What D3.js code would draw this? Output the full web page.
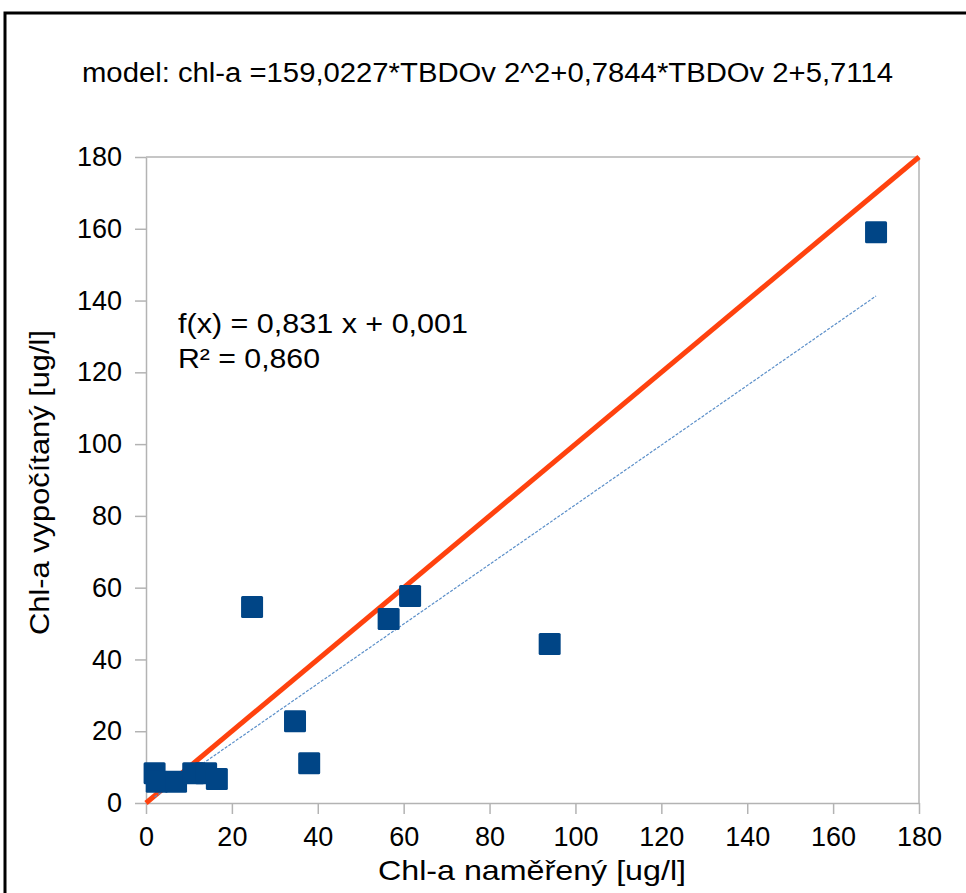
<!DOCTYPE html>
<html><head><meta charset="utf-8">
<script src="https://cdn.jsdelivr.net/npm/d3@7"></script>
<style>body{margin:0;background:#fff}svg{display:block}text{font-family:"Liberation Sans",Arial,sans-serif;fill:#000}</style>
</head><body>
<script>
const titleText = "model: chl-a =159,0227*TBDOv 2^2+0,7844*TBDOv 2+5,7114";
const xLabel = "Chl-a naměřený [ug/l]";
const yLabel = "Chl-a vypočítaný [ug/l]";
const measured = [170, 94, 61.5, 56.5, 24.7, 34.7, 38, 2, 2.5, 7, 11, 14, 16.5];
const computed = [159, 44.3, 57.7, 51.3, 54.6, 22.8, 11.1, 8.3, 5.9, 5.9, 8.3, 8.3, 6.7];
const xTicks = [0, 20, 40, 60, 80, 100, 120, 140, 160, 180];
const yTicks = [0, 20, 40, 60, 80, 100, 120, 140, 160, 180];
const identityLine = [[0, 0], [180, 180]];
const trendSlope = 0.831, trendIntercept = 0.001;
const trendText = ["f(x) = 0,831 x + 0,001", "R² = 0,860"];

const W = 966, H = 893;
const svg = d3.select("body").append("svg").attr("width", W).attr("height", H);
svg.append("rect").attr("x", 5).attr("y", 13).attr("width", 990).attr("height", 920)
  .attr("fill", "#fff").attr("stroke", "#000").attr("stroke-width", 3);

const L = 146, R = 919, T = 157, B = 803;
const x = d3.scaleLinear().domain([0, 180]).range([L, R]);
const y = d3.scaleLinear().domain([0, 180]).range([B, T]);
const grey = "#b3b3b3";

// frame
svg.append("line").attr("x1", L).attr("x2", R).attr("y1", T).attr("y2", T).attr("stroke", grey).attr("stroke-width", 1.5);
svg.append("line").attr("x1", R).attr("x2", R).attr("y1", T).attr("y2", B).attr("stroke", grey).attr("stroke-width", 1.5);

const xAxis = svg.append("g").attr("transform", `translate(0,${B})`)
  .call(d3.axisBottom(x).tickValues(xTicks).tickSize(11).tickSizeOuter(0).tickPadding(10).tickFormat(d3.format("d")));
const yAxis = svg.append("g").attr("transform", `translate(${L},0)`)
  .call(d3.axisLeft(y).tickValues(yTicks).tickSize(11).tickSizeOuter(0).tickPadding(13).tickFormat(d3.format("d")));
[xAxis, yAxis].forEach(g => {
  g.select(".domain").attr("stroke", grey).attr("stroke-width", 1.5);
  g.selectAll(".tick line").attr("stroke", grey).attr("stroke-width", 1.5);
  g.selectAll(".tick text").attr("font-size", 27).attr("fill", "#000")
   .attr("font-family", '"Liberation Sans",Arial,sans-serif');
});
xAxis.selectAll(".tick text").attr("dy", "0.82em");

// identity line
svg.append("line")
  .attr("x1", x(identityLine[0][0])).attr("y1", y(identityLine[0][1]))
  .attr("x2", x(identityLine[1][0])).attr("y2", y(identityLine[1][1]))
  .attr("stroke", "#ff420e").attr("stroke-width", 5);

// trend line
const xmin = d3.min(measured), xmax = d3.max(measured);
svg.append("line")
  .attr("x1", x(xmin)).attr("y1", y(trendSlope * xmin + trendIntercept))
  .attr("x2", x(xmax)).attr("y2", y(trendSlope * xmax + trendIntercept))
  .attr("stroke", "#5b8fc9").attr("stroke-width", 1.2).attr("stroke-dasharray", "3,1.5");

// points
const s = 22;
svg.append("g").selectAll("rect").data(measured.map((m, i) => [m, computed[i]])).join("rect")
  .attr("x", d => x(d[0]) - s / 2).attr("y", d => y(d[1]) - s / 2)
  .attr("width", s).attr("height", s).attr("rx", 1.5).attr("fill", "#004586");

// texts
svg.append("text").attr("x", 82).attr("y", 82).attr("font-size", 27)
  .attr("textLength", 811).attr("lengthAdjust", "spacingAndGlyphs").text(titleText);
svg.append("text").attr("x", 378).attr("y", 880).attr("font-size", 28)
  .attr("textLength", 308).attr("lengthAdjust", "spacingAndGlyphs").text(xLabel);
svg.append("text").attr("transform", "translate(49,635) rotate(-90)").attr("font-size", 28)
  .attr("textLength", 305).attr("lengthAdjust", "spacingAndGlyphs").text(yLabel);
const tLens = [290, 142];
trendText.forEach((t, i) => svg.append("text").attr("x", 178).attr("y", 333 + i * 35).attr("font-size", 28)
  .attr("textLength", tLens[i]).attr("lengthAdjust", "spacingAndGlyphs").text(t));
</script>
</body></html>
